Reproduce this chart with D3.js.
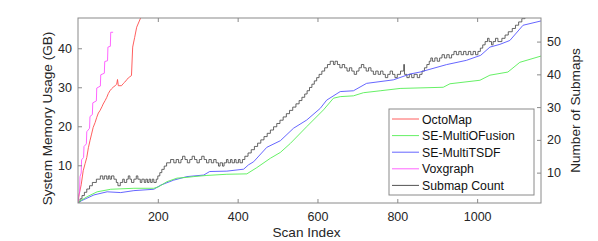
<!doctype html>
<html>
  <head>
    <meta charset="utf-8">
    <script src="https://cdn.jsdelivr.net/npm/d3@7"></script>
    <style>
    body { margin: 0; background: #fff; }
    .chart { font-family: 'Liberation Sans', Arial, sans-serif; }
    .tick text { font-family: 'Liberation Sans', Arial, sans-serif; font-size: 12.5px; fill: #262626; }
    .lbl { font-size: 13.6px; fill: #262626; }
    .legend-label { font-size: 12.3px; fill: #111; }
    </style>
  </head>
  <body>
    <svg class="chart"></svg>
  <script>

    // [scan index, GB]
    const octoMap = [[0,0.5],[3,2.6],[8,5],[13,8.6],[18,10.5],[22,12],[26,14.5],[30,16.3],[34,18],[38,19.7],[43,21],[47,22.3],[51,23.4],[55,24],[60,25],[63,25.7],[68,26.6],[72,27.4],[76,28.4],[80,29.1],[84,29.6],[88,30],[93,30.4],[97,30.8],[99,32],[101,30.4],[109,30.4],[113,30.9],[117,31.3],[122,31.9],[126,32.4],[130,32.7],[134,33],[137,40.3],[142,42.8],[147,45.4],[157,47.8],[165,50]]
    const seMultiOFusion = [[0,0.5],[23,1.95],[48,3.2],[82,3.85],[140,4.1],[190,4.1],[202,4.5],[223,5.8],[248,6.7],[273,6.9],[290,7.1],[323,7.4],[373,7.7],[423,7.8],[448,9.4],[482,11.8],[507,13.3],[532,15.6],[573,19.9],[615,24.2],[640,27.2],[657,27.6],[690,27.8],[715,28.6],[757,29.1],[807,29.7],[915,30],[932,30.9],[1007,31.8],[1032,33.1],[1077,33.9],[1107,36.4],[1160,38]]
    const seMultiTSDF = [[0,0.5],[40,2.4],[73,3.2],[107,3.0],[140,3.5],[190,3.85],[207,4.9],[240,6.2],[273,7.1],[315,7.5],[330,8.4],[373,8.5],[415,9.0],[427,10.1],[440,10.9],[473,14.6],[507,16.3],[540,19.5],[573,21.6],[607,24.6],[623,26.7],[657,28.9],[690,29.1],[723,31],[790,31.9],[832,33.4],[857,33.9],[923,35.8],[973,36.9],[1009,38.2],[1032,40.3],[1057,41],[1082,42],[1115,45.9],[1160,47]]
    const voxgraph = [[0,0.5],[1,2],[4,3],[5,7.1],[8,8],[9,11.4],[14,12],[15,14.8],[21,15.5],[22,18.6],[29,19.5],[30,22.5],[36,23],[37,26],[46,26.5],[47,29.8],[56,30.3],[57,33.2],[66,33.6],[67,36.6],[74,36.8],[75,40.3],[81,40.5],[82,44.1],[88,44.1]]
    // [scan index, number of submaps]
    const submapCount = [[0,1],[5,2],[10,3],[16,4],[22,5],[29,6],[36,7],[46,8],[56,9],[62,8],[66,9],[72,8],[76,9],[80,8],[84,9],[90,8],[96,7],[100,6],[106,7],[112,8],[116,7],[122,8],[126,9],[130,8],[134,7],[140,8],[146,9],[150,8],[156,7],[160,8],[166,7],[170,8],[174,7],[178,8],[182,7],[186,8],[190,7],[196,8],[200,9],[205,10],[210,11],[216,12],[222,13],[232,14],[240,13],[246,14],[252,13],[258,14],[262,15],[268,14],[274,13],[280,14],[286,15],[292,14],[298,13],[304,14],[310,15],[316,14],[322,13],[328,14],[334,13],[340,14],[346,13],[352,12],[356,13],[362,12],[366,13],[372,14],[376,13],[382,14],[386,13],[392,14],[396,13],[402,14],[406,13],[412,14],[418,15],[426,16],[434,17],[442,18],[450,19],[458,20],[466,21],[474,22],[482,23],[490,24],[498,25],[506,26],[514,27],[522,28],[530,29],[538,30],[546,31],[554,32],[561,33],[568,34],[574,35],[580,36],[586,37],[592,38],[598,39],[604,40],[611,41],[618,42],[625,43],[632,44],[640,43],[644,44],[650,43],[656,42],[662,43],[668,42],[674,41],[680,42],[686,41],[692,40],[698,41],[704,42],[710,43],[716,42],[722,41],[728,42],[734,41],[740,40],[746,41],[752,40],[758,41],[764,40],[770,39],[776,40],[782,41],[788,40],[794,39],[800,40],[808,41],[816,43],[818,40],[824,39],[830,40],[836,39],[842,40],[850,39],[856,40],[862,41],[868,42],[874,43],[880,44],[884,45],[888,44],[894,45],[900,44],[906,45],[912,46],[918,45],[924,46],[930,45],[936,46],[942,47],[948,46],[954,47],[960,46],[966,47],[972,46],[978,47],[984,46],[990,47],[996,46],[1002,47],[1008,48],[1014,49],[1020,50],[1026,51],[1030,50],[1036,49],[1040,50],[1046,51],[1052,50],[1062,51],[1070,52],[1078,53],[1088,54],[1096,55],[1104,56],[1112,57],[1120,58],[1130,59],[1160,60]]

    const xTicks = [200, 400, 600, 800, 1000]
    const leftTicks = [10, 20, 30, 40]
    const rightTicks = [10, 20, 30, 40, 50]

    const names = ["OctoMap", "SE-MultiOFusion", "SE-MultiTSDF", "Voxgraph", "Submap Count"]
    const colors = ["#ff4d4d", "#55ee55", "#5555ff", "#ff55ff", "#404040"]

    const margin = { left: 78, top: 18, right: 57, bottom: 38 },
        width = 598 - margin.left - margin.right,
        height = 241 - margin.top - margin.bottom

    const frame = "#8a8a8a"

    const xScale = d3.scaleLinear().domain([0, 1160]).range([0, width])
    const yLeft = d3.scaleLinear().domain([0.33, 47.76]).range([height, 0])
    const yRight = d3.scaleLinear().domain([0.73, 57.2]).range([height, 0])

    let svg = d3.select(".chart")
                .attr("width", 598)
                .attr("height", 241)

    svg.append("defs").append("clipPath").attr("id", "plot-clip")
      .append("rect").attr("width", width).attr("height", height)

    let chart = svg.append("g")
                   .attr("transform", "translate(" + margin.left + "," + margin.top + ")")

    let lines = chart.append("g").attr("clip-path", "url(#plot-clip)")

    const memLine = d3.line().x(d => xScale(d[0])).y(d => yLeft(d[1]))
    const countLine = d3.line().x(d => xScale(d[0])).y(d => yRight(d[1])).curve(d3.curveStepAfter)

    const memSeries = [octoMap, seMultiOFusion, seMultiTSDF, voxgraph]

    // draw order: submap count first, memory curves on top
    lines.append("path")
      .attr("d", countLine(submapCount))
      .attr("fill", "none").attr("stroke", colors[4]).attr("stroke-width", 0.8)

    ;[2, 1, 0, 3].forEach(function(k) {
      lines.append("path")
        .attr("d", memLine(memSeries[k]))
        .attr("fill", "none").attr("stroke", colors[k]).attr("stroke-width", 0.9)
    })

    // axes, matlab style inward ticks
    chart.append("g")
      .attr("transform", "translate(0," + height + ")")
      .call(d3.axisBottom(xScale).tickValues(xTicks).tickFormat(d3.format("d")).tickSize(-4).tickPadding(9).tickSizeOuter(0))
    chart.append("g")
      .call(d3.axisTop(xScale).tickValues(xTicks).tickSize(-4).tickFormat("").tickSizeOuter(0))
    chart.append("g")
      .call(d3.axisLeft(yLeft).tickValues(leftTicks).tickSize(-4).tickPadding(6).tickSizeOuter(0))
    chart.append("g")
      .attr("transform", "translate(" + width + ",0)")
      .call(d3.axisRight(yRight).tickValues(rightTicks).tickSize(-4).tickPadding(6).tickSizeOuter(0))

    chart.selectAll(".domain").remove()
    chart.selectAll(".tick line").attr("stroke", frame)

    chart.append("rect")
      .attr("width", width).attr("height", height)
      .attr("fill", "none").attr("stroke", frame).attr("stroke-width", 1)

    // axis titles
    svg.append("text").attr("class", "lbl")
      .attr("text-anchor", "middle")
      .attr("x", margin.left + width / 2 - 3).attr("y", 237)
      .text("Scan Index")

    svg.append("text").attr("class", "lbl")
      .attr("text-anchor", "middle")
      .attr("transform", "translate(52," + (margin.top + height / 2 + 8) + ") rotate(-90)")
      .text("System Memory Usage (GB)")

    svg.append("text").attr("class", "lbl")
      .attr("text-anchor", "middle")
      .attr("transform", "translate(580," + (margin.top + height / 2) + ") rotate(-90)")
      .text("Number of Submaps")

    // legend
    let legend = svg.append("g").attr("transform", "translate(389,109)")

    legend.append("rect")
      .attr("width", 145).attr("height", 86)
      .attr("fill", "#fff").attr("stroke", frame)

    let entry = legend.selectAll(".entry")
      .data(names)
      .enter().append("g")
        .attr("transform", (d, i) => "translate(0," + (10 + i * 16.6) + ")")

    entry.append("line")
      .attr("x1", 3).attr("x2", 30)
      .attr("stroke", (d, i) => colors[i]).attr("stroke-width", 0.9)

    entry.append("text")
      .attr("class", "legend-label")
      .attr("x", 33).attr("y", 4.5)
      .text(d => d)

  </script>
  </body>
</html>
